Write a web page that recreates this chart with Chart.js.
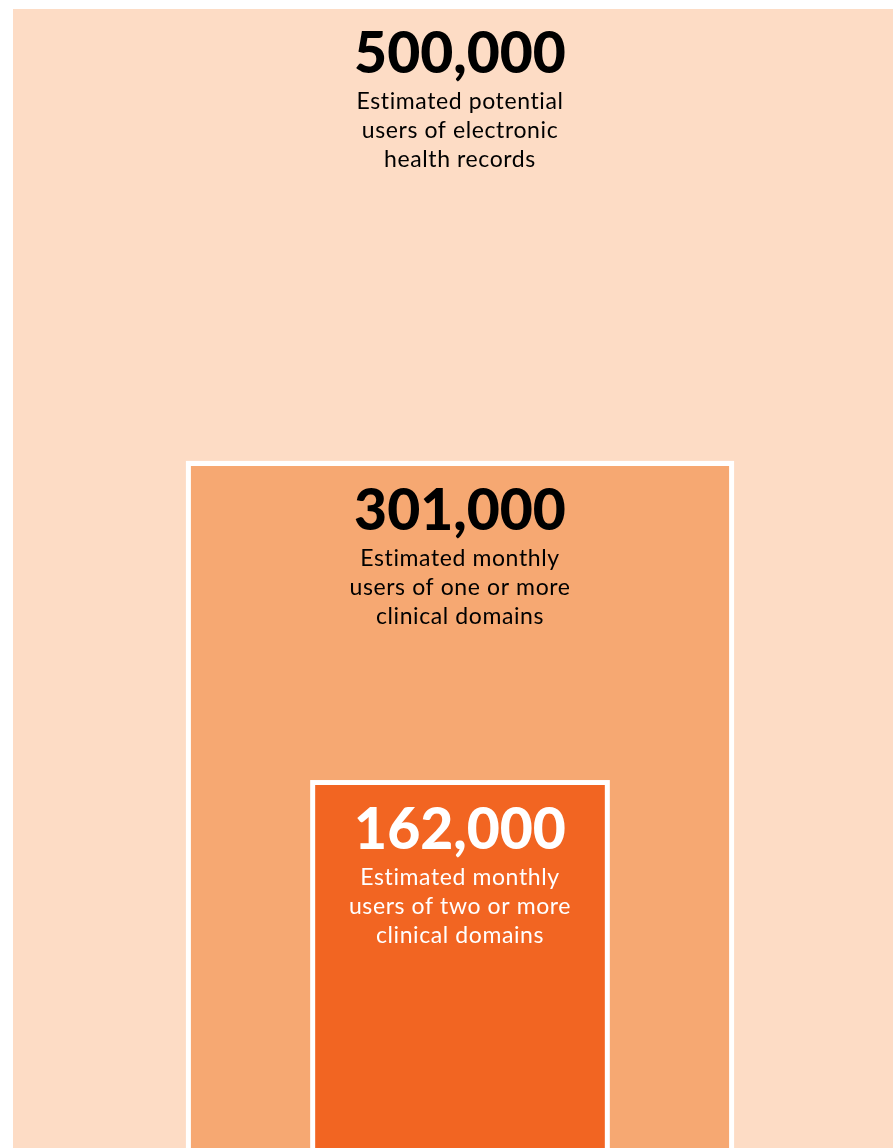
<!DOCTYPE html>
<html>
<head>
<meta charset="utf-8">
<title>Electronic health record users</title>
<script src="https://cdn.jsdelivr.net/npm/chart.js@4.4.0/dist/chart.umd.min.js"></script>
<style>
  html, body { margin: 0; padding: 0; background: #fff; overflow: hidden; width: 893px; height: 1148px; }
  /* the outer block runs off the right edge and the bottom of the page */
  #wrap { position: absolute; left: 13px; top: 9px; width: 894px; height: 1148px; }
</style>
</head>
<body>
<div id="wrap"><canvas id="users"></canvas></div>
<script>
// nested groups, largest first
const groups = ["Potential users", "Monthly users, 1+ domains", "Monthly users, 2+ domains"];
const users = [500000, 301000, 162000];
const captions = [
  ["Estimated potential", "users of electronic", "health records"],
  ["Estimated monthly", "users of one or more", "clinical domains"],
  ["Estimated monthly", "users of two or more", "clinical domains"]
];

const fills = ["#fddcc5", "#f6a872", "#f26522"];
const inks = ["#000000", "#000000", "#ffffff"];

// white frame round the inner blocks (bottom edge left open)
const framePlugin = {
  id: "frame",
  beforeDatasetDraw(chart, args) {
    if (args.index === 0) return;
    const bar = chart.getDatasetMeta(args.index).data[0];
    const ctx = chart.ctx;
    const pad = 5;
    ctx.save();
    ctx.fillStyle = "#ffffff";
    ctx.fillRect(bar.x - bar.width / 2 - pad, bar.y - pad, bar.width + pad * 2, bar.base - bar.y + pad);
    ctx.restore();
  }
};

// big number + caption at the top of each block
const labelPlugin = {
  id: "labels",
  afterDatasetsDraw(chart) {
    const ctx = chart.ctx;
    ctx.save();
    ctx.textAlign = "center";
    ctx.textBaseline = "alphabetic";
    users.forEach((v, i) => {
      const bar = chart.getDatasetMeta(i).data[0];
      ctx.fillStyle = inks[i];
      ctx.letterSpacing = "0px";
      ctx.font = "900 57px Lato";
      ctx.fillText(v.toLocaleString("en-US"), bar.x, bar.y + 64);
      ctx.font = "23px Lato";
      ctx.letterSpacing = "0.6px"; // also keeps "ti" from joining
      captions[i].forEach((line, k) => {
        ctx.fillText(line, bar.x, bar.y + 100 + k * 29);
      });
    });
    ctx.restore();
  }
};

const ctx = document.getElementById("users").getContext("2d");
new Chart(ctx, {
  type: "bar",
  data: {
    labels: ["users"],
    datasets: users.map((v, i) => ({
      label: groups[i],
      data: [v],
      backgroundColor: fills[i],
      borderWidth: 0,
      grouped: false,
      // biggest block drawn first, smaller ones on top
      order: users.length - i,
      categoryPercentage: 1,
      // block width scales with its value, same as the height
      barPercentage: v / users[0]
    }))
  },
  options: {
    responsive: true,
    maintainAspectRatio: false,
    animation: false,
    layout: { padding: 0 },
    plugins: {
      legend: { display: false },
      tooltip: { enabled: false }
    },
    scales: {
      x: { display: false },
      y: { display: false, min: 0, max: users[0] }
    }
  },
  plugins: [framePlugin, labelPlugin]
});
</script>
</body>
</html>
